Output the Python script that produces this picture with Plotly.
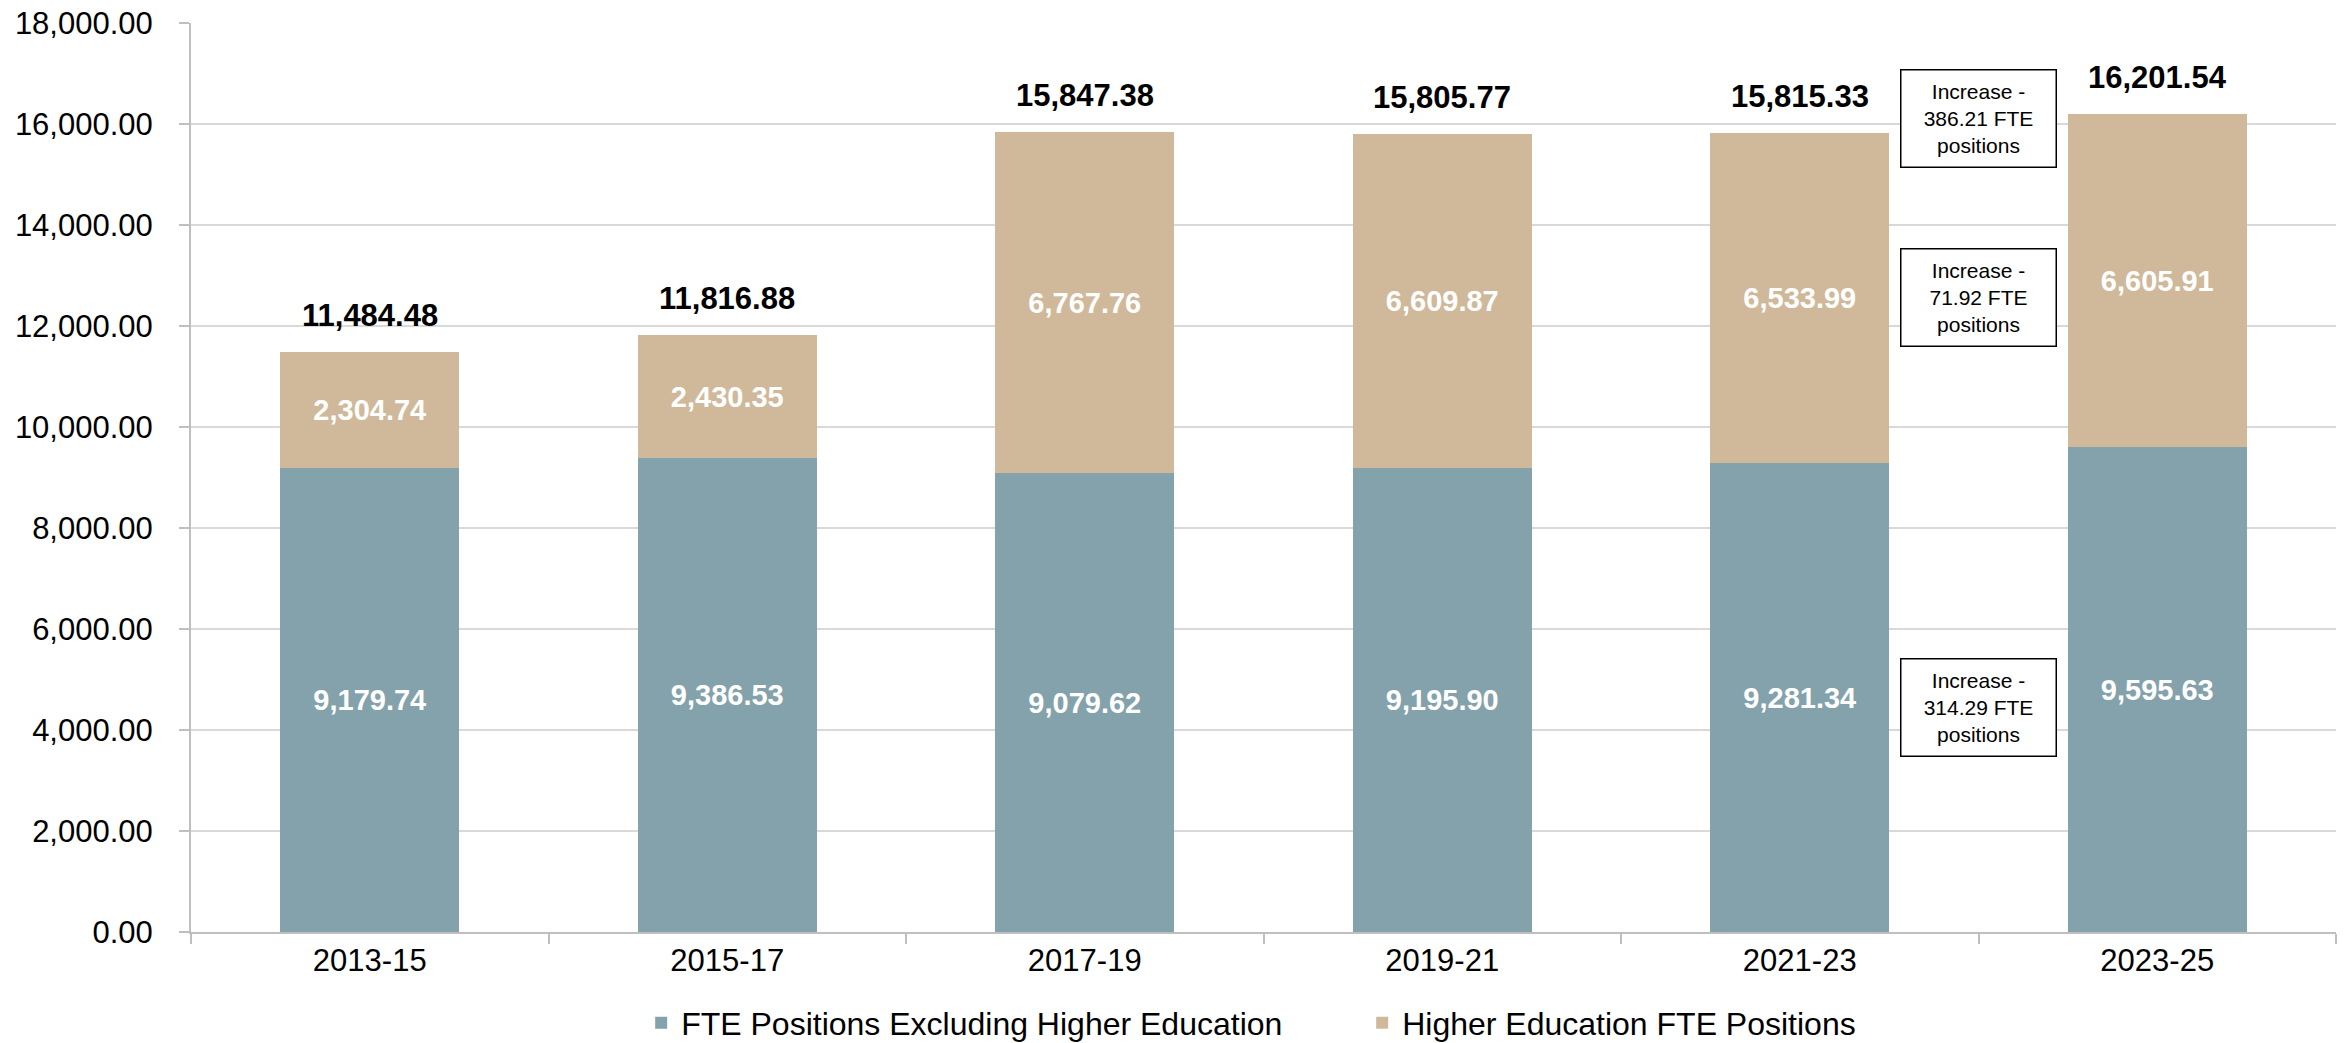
import plotly.graph_objects as go

categories = ["2013-15", "2015-17", "2017-19", "2019-21", "2021-23", "2023-25"]
excl_higher_ed = [9179.74, 9386.53, 9079.62, 9195.90, 9281.34, 9595.63]
higher_ed = [2304.74, 2430.35, 6767.76, 6609.87, 6533.99, 6605.91]
totals = [a + b for a, b in zip(excl_higher_ed, higher_ed)]

notes = ["Increase -<br>386.21 FTE<br>positions",
         "Increase -<br>71.92 FTE<br>positions",
         "Increase -<br>314.29 FTE<br>positions"]
note_y = [16100, 12560, 4440]

teal = "#84A2AB"
tan = "#D0B99A"
font = "Liberation Sans, Arial, sans-serif"

fig = go.Figure()
fig.add_trace(go.Bar(
    x=categories, y=excl_higher_ed, name="FTE Positions Excluding Higher Education",
    marker=dict(color=teal, line=dict(width=0)),
    text=[f"{v:,.2f}" for v in excl_higher_ed], textposition="inside",
    insidetextanchor="middle", textangle=0,
    textfont=dict(color="white", size=29, family=font, weight="bold"),
))
fig.add_trace(go.Bar(
    x=categories, y=higher_ed, name="Higher Education FTE Positions",
    marker=dict(color=tan, line=dict(width=0)),
    text=[f"{v:,.2f}" for v in higher_ed], textposition="inside",
    insidetextanchor="middle", textangle=0,
    textfont=dict(color="white", size=29, family=font, weight="bold"),
))

for c, t in zip(categories, totals):
    fig.add_annotation(x=c, y=t, text=f"<b>{t:,.2f}</b>", showarrow=False,
                       yanchor="bottom", yshift=17,
                       font=dict(size=31, color="black", family=font))

for txt, yv in zip(notes, note_y):
    fig.add_annotation(x=4.5, y=yv, xref="x", yref="y", text=txt, showarrow=False,
                       bordercolor="black", borderwidth=1.5, bgcolor="white",
                       width=152, height=94, align="center",
                       font=dict(size=21, color="black", family=font))

fig.update_layout(
    barmode="stack", bargap=0.5,
    width=2346, height=1043,
    margin=dict(l=191, r=10, t=23, b=111, autoexpand=False),
    plot_bgcolor="white", paper_bgcolor="white",
    font=dict(family=font, size=31, color="black"),
    legend=dict(orientation="h", x=0.546, xanchor="center", y=-0.1, yanchor="middle",
                font=dict(size=32), traceorder="normal",
                entrywidth=676, entrywidthmode="pixels"),
    showlegend=True,
)
fig.update_xaxes(showline=True, linecolor="#BFBFBF", linewidth=2, automargin=False,
                 ticks="outside", tickson="boundaries", ticklen=10, tickcolor="#BFBFBF",
                 tickwidth=2, tickfont=dict(size=31))
fig.update_yaxes(range=[0, 18000], dtick=2000, tickformat=",.2f", automargin=False,
                 showgrid=True, gridcolor="#D9D9D9", gridwidth=2,
                 showline=True, linecolor="#BFBFBF", linewidth=2,
                 ticks="outside", ticklen=10, tickcolor="#BFBFBF", tickwidth=2,
                 ticklabelstandoff=20,
                 tickfont=dict(size=31), zeroline=False)

fig.write_html("out.html", config={"displayModeBar": False},
               post_script="document.body.style.margin='0';document.body.style.overflow='hidden';")
